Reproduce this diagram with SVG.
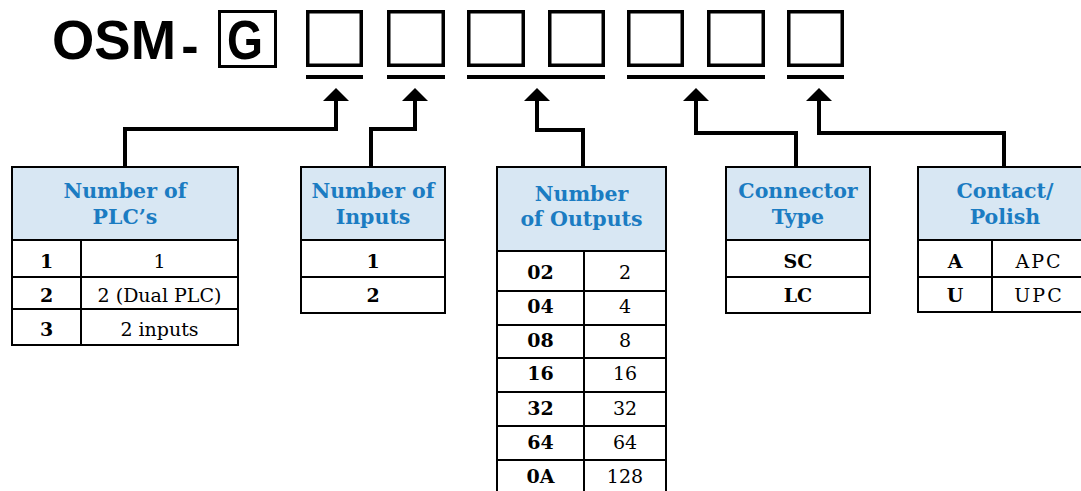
<svg xmlns="http://www.w3.org/2000/svg" width="1081" height="491" viewBox="0 0 1081 491">
<style>
.logo{font-family:"Liberation Sans",Arial,sans-serif;font-weight:bold;fill:#000}
.box{fill:none;stroke:#000;stroke-width:3.5}
.ul{fill:#000}
.conn{fill:none;stroke:#000;stroke-width:4;stroke-linejoin:miter}
.hdr{fill:#d8e7f3;stroke:#000;stroke-width:2}
.cell{fill:#fff;stroke:#000;stroke-width:2}
.ht{font-family:"DejaVu Serif","Liberation Serif",serif;font-weight:bold;font-size:20.5px;fill:#1b7cc2;text-anchor:middle}
.b{font-family:"DejaVu Serif","Liberation Serif",serif;font-weight:bold;font-size:19px;fill:#000;text-anchor:middle}
.r{font-family:"DejaVu Serif","Liberation Serif",serif;font-size:19px;fill:#000;text-anchor:middle}
</style>
<defs>
<marker id="arr" viewBox="0 0 13 26" refX="0" refY="13" markerWidth="13" markerHeight="26" markerUnits="userSpaceOnUse" orient="auto">
<path d="M0,0 L13,13 L0,26 Z" fill="#000"/>
</marker>
</defs>
<rect width="1081" height="491" fill="#fff"/>

<g id="code">
<text class="logo" x="52" y="59" font-size="56" textLength="124" lengthAdjust="spacingAndGlyphs">OSM</text>
<text class="logo" x="190" y="63" font-size="52" text-anchor="middle">-</text>
<rect x="219.5" y="11.5" width="56" height="55" fill="none" stroke="#000" stroke-width="3"/>
<text class="logo" x="227" y="59" font-size="56" textLength="36" lengthAdjust="spacingAndGlyphs">G</text>
<rect class="box" x="307.75" y="11.75" width="53.5" height="53.5"/>
<rect class="box" x="388.75" y="11.75" width="54.5" height="53.5"/>
<rect class="box" x="468.75" y="11.75" width="54.5" height="53.5"/>
<rect class="box" x="549.75" y="11.75" width="53.5" height="53.5"/>
<rect class="box" x="628.75" y="11.75" width="53.5" height="53.5"/>
<rect class="box" x="708.75" y="11.75" width="54.5" height="53.5"/>
<rect class="box" x="788.75" y="11.75" width="53.5" height="53.5"/>
<rect class="ul" x="306" y="75" width="57" height="4"/>
<rect class="ul" x="387" y="75" width="58" height="4"/>
<rect class="ul" x="467" y="75" width="138" height="4"/>
<rect class="ul" x="627" y="75" width="138" height="4"/>
<rect class="ul" x="787" y="75" width="57" height="4"/>
</g>

<g id="connectors">
<path class="conn" d="M125,167 V129 H336 V101" marker-end="url(#arr)"/>
<path class="conn" d="M371,167 V129 H415 V101" marker-end="url(#arr)"/>
<path class="conn" d="M583,167 V130 H537 V101" marker-end="url(#arr)"/>
<path class="conn" d="M796,167 V133 H696 V101" marker-end="url(#arr)"/>
<path class="conn" d="M1004,167 V133 H819 V101" marker-end="url(#arr)"/>
</g>

<g id="plcs">
<rect class="hdr" x="12" y="167" width="226" height="73"/>
<rect class="cell" x="12" y="240" width="226" height="37"/>
<rect class="cell" x="12" y="277" width="226" height="32"/>
<rect class="cell" x="12" y="309" width="226" height="36"/>
<line x1="81" y1="240" x2="81" y2="345" stroke="#000" stroke-width="2"/>
<text class="ht" x="125" y="198">Number of</text>
<text class="ht" x="125" y="224">PLC’s</text>
<text class="b" x="46.5" y="268">1</text>
<text class="r" x="159.5" y="268">1</text>
<text class="b" x="46.5" y="302">2</text>
<text class="r" x="159.5" y="302">2 (Dual PLC)</text>
<text class="b" x="46.5" y="336">3</text>
<text class="r" x="159.5" y="336">2 inputs</text>
</g>

<g id="inputs">
<rect class="hdr" x="301" y="167" width="144" height="73"/>
<rect class="cell" x="301" y="240" width="144" height="37"/>
<rect class="cell" x="301" y="277" width="144" height="36"/>
<text class="ht" x="373" y="198">Number of</text>
<text class="ht" x="373" y="224">Inputs</text>
<text class="b" x="373" y="268">1</text>
<text class="b" x="373" y="302">2</text>
</g>

<g id="outputs">
<rect class="hdr" x="497" y="167" width="169" height="84"/>
<rect class="cell" x="497" y="251" width="169" height="40"/>
<rect class="cell" x="497" y="291" width="169" height="34"/>
<rect class="cell" x="497" y="325" width="169" height="33"/>
<rect class="cell" x="497" y="358" width="169" height="34"/>
<rect class="cell" x="497" y="392" width="169" height="34"/>
<rect class="cell" x="497" y="426" width="169" height="34"/>
<rect class="cell" x="497" y="460" width="169" height="40"/>
<line x1="584" y1="251" x2="584" y2="500" stroke="#000" stroke-width="2"/>
<text class="ht" x="581.5" y="201">Number</text>
<text class="ht" x="581.5" y="226">of Outputs</text>
<text class="b" x="540.5" y="279">02</text><text class="r" x="625" y="279">2</text>
<text class="b" x="540.5" y="313">04</text><text class="r" x="625" y="313">4</text>
<text class="b" x="540.5" y="347">08</text><text class="r" x="625" y="347">8</text>
<text class="b" x="540.5" y="380">16</text><text class="r" x="625" y="380">16</text>
<text class="b" x="540.5" y="415">32</text><text class="r" x="625" y="415">32</text>
<text class="b" x="540.5" y="449">64</text><text class="r" x="625" y="449">64</text>
<text class="b" x="540.5" y="483">0A</text><text class="r" x="625" y="483">128</text>
</g>

<g id="connector-type">
<rect class="hdr" x="726" y="167" width="144" height="73"/>
<rect class="cell" x="726" y="240" width="144" height="37"/>
<rect class="cell" x="726" y="277" width="144" height="36"/>
<text class="ht" x="798" y="198">Connector</text>
<text class="ht" x="798" y="224">Type</text>
<text class="b" x="798" y="268">SC</text>
<text class="b" x="798" y="302">LC</text>
</g>

<g id="contact-polish">
<rect class="hdr" x="918" y="167" width="174" height="73"/>
<rect class="cell" x="918" y="240" width="174" height="37"/>
<rect class="cell" x="918" y="277" width="174" height="35"/>
<line x1="992" y1="240" x2="992" y2="312" stroke="#000" stroke-width="2"/>
<text class="ht" x="1005" y="198">Contact/</text>
<text class="ht" x="1005" y="224">Polish</text>
<text class="b" x="955" y="268">A</text>
<text class="r" x="1039" y="268" letter-spacing="2">APC</text>
<text class="b" x="955" y="302">U</text>
<text class="r" x="1039" y="302" letter-spacing="2">UPC</text>
</g>
</svg>
